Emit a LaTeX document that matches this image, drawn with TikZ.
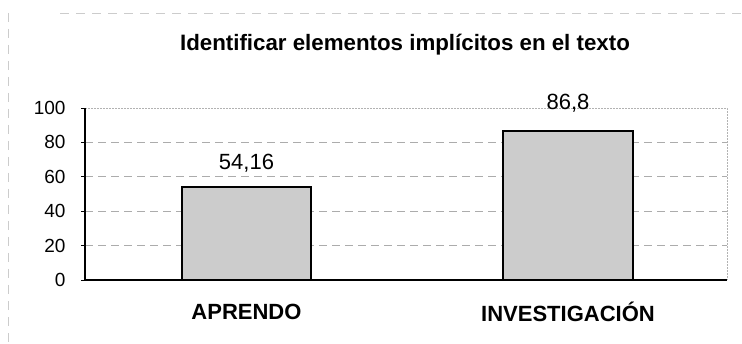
\documentclass[tikz,border=0pt]{standalone}
\usepackage{fontspec}
\setmainfont{Liberation Sans}
\usetikzlibrary{positioning}
\newcommand{\barunit}[0]{1.72}

\begin{document}
\begin{tikzpicture}[x=1pt, y=1pt,
                        gridline/.style={gray!65, line width=0.6pt, dash pattern=on 8pt off 5pt},
                        frameline/.style={gray!60, line width=0.6pt, dash pattern=on 2pt off 1pt},
                        outerline/.style={gray!40, line width=0.5pt, dash pattern=on 9pt off 7pt},
                        barbox/.style={draw=black, line width=2pt, fill=black!20},
                        ticklabel/.style={anchor=east, font=\fontsize{19}{21}\selectfont},
                        valuelabel/.style={anchor=south, font=\fontsize{22}{24}\selectfont},
                        catlabel/.style={font=\fontsize{22}{24}\selectfont\bfseries}]
                        \useasboundingbox (0, 0) rectangle (742, 343);
                        % outer chart border (faint)
                        \draw[outerline] (60, 330) -- (742, 330);
                        \draw[outerline] (8, 330) -- (8, 0);
                        \node[font=\fontsize{22.3}{24}\selectfont\bfseries] (title) at (405, 298) {Identificar elementos impl\'icitos en el texto};
                        % plot area
                        \coordinate (o) at (85, 63);
                        \coordinate (xend) at (727, 63);
                        \coordinate (ytop) at (85, 235);
                        \coordinate (corner) at (727, 235);
                        \foreach \v in {20, 40, 60, 80}
                            \draw[gridline] (85, 63 + \v*\barunit) -- (727, 63 + \v*\barunit);
                        \draw[frameline] (ytop) -- (corner) -- (xend);
                        \foreach \v in {0, 20, 40, 60, 80, 100} {
                            \draw[line width=0.8pt] (81, 63 + \v*\barunit) -- (85, 63 + \v*\barunit);
                            \node[ticklabel] (t\v) at (69, 63 + \v*\barunit) {\v};
                        }
                        % bars
                        \draw[barbox] (182, 63) rectangle (311, 63 + 54.16*\barunit) coordinate (b1);
                        \draw[barbox] (503, 63) rectangle (633, 63 + 86.8*\barunit) coordinate (b2);
                        \draw[line width=1.2pt] (ytop) -- (o) -- (xend);
                        \node[valuelabel] (v1) at (246.5, 63 + 54.16*\barunit + 11) {54,16};
                        \node[valuelabel] (v2) at (568, 63 + 86.8*\barunit + 15) {86,8};
                        \node[catlabel] (c1) at (246.5, 31) {APRENDO};
                        \node[catlabel] (c2) at (568, 31) {INVESTIGACI\'ON};
                    \end{tikzpicture}
\end{document}
